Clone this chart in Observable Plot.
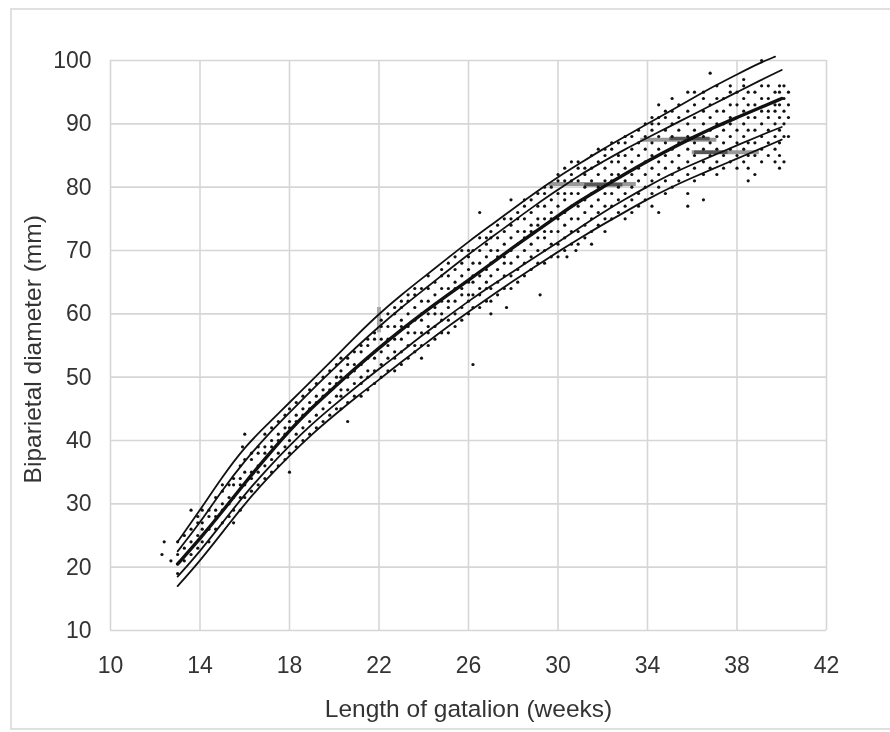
<!DOCTYPE html>
<html><head><meta charset="utf-8">
<script src="https://cdn.jsdelivr.net/npm/d3@7"></script>
<script src="https://cdn.jsdelivr.net/npm/@observablehq/plot@0.6"></script>
<style>
html,body{margin:0;padding:0;background:#fff}
#wrap{position:relative;width:890px;height:732px;overflow:hidden}
#wrap svg{display:block;filter:blur(0.6px)}
#frame{position:absolute;left:10px;top:8px;width:880px;height:722px;border:2px solid #e0e0e0;border-right:none;box-sizing:border-box;pointer-events:none}
</style></head><body>
<div id="wrap"><div id="frame"></div></div>
<script>
const xTicks = [10,14,18,22,26,30,34,38,42];
const yTicks = [10,20,30,40,50,60,70,80,90,100];
const curveWeeks = [13,14,15,16,17,18,19,20,21,22,23,24,25,26,27,28,29,30,31,32,33,34,35,36,37,38,39,40];
const upperOuterWeeks = [13,14,15,16,17,18,19,20,21,22,23,24,25,26,27,28,29,30,31,32,33,34,35,36,37,38,39,39.7];
const upperOuter = [24,29,34.3,39,42.5,46,49.5,53,56.6,60,63,65.8,68.6,71.4,74,76.6,79.2,81.6,83.8,86,88,90,92,94,96,97.8,99.6,100.6];
const upperInner = [22.5,27,32.2,36.8,40.8,44.4,48,51.4,54.8,58,61,63.8,66.6,69.4,72,74.6,77.2,79.6,82,84,86,87.8,89.6,91.4,93.2,95,96.8,98.5];
const median = [20.5,24.5,28.8,33.3,37.5,41.6,45.2,48.4,51.6,54.6,57.5,60.2,62.8,65.3,67.9,70.5,73,75.5,77.9,80,82.1,84.1,86,87.8,89.5,91,92.5,94];
const lowerInner = [18.5,22.5,27,31.5,35.5,39.2,42.6,45.6,48.5,51.3,54,56.8,59.4,62,64.4,66.7,69,71.3,73.7,76,78.1,80.1,82,83.6,85.1,86.6,88.1,89.5];
const lowerOuter = [17,21,25.5,30,34,37.6,41,44,46.9,49.6,52.4,55.1,57.8,60.3,62.8,65.2,67.5,69.8,72,74.1,76.1,78.1,79.9,81.5,83,84.5,86,87.5];

const dotColumns = [
[12.3,[22]],[12.4,[24]],[12.7,[21]],[13,[19,22,24]],[13.3,[21,23,25]],[13.6,[22,24,26,29]],[13.9,[23,25,27,28]],
[14.1,[24,26,27,29]],[14.4,[24,26,28,29]],[14.7,[26,28,29,31]],[15,[27,29,30,32,33]],[15.3,[28,30,31,33]],
[15.5,[27,29,31,33,34]],[15.8,[29,31,33,34,36]],[15.9,[39]],[16,[31,33,35,37,41]],[16.3,[32,34,35,37,38]],[16.6,[33,35,36,38,39]],
[16.9,[34,36,38,39,41]],[17.2,[35,37,39,40,42]],[17.5,[36,38,40,41,43]],[17.8,[37,39,41,42,44]],[18,[35,38,40,42,43,45]],
[18.3,[39,41,43,44,46]],[18.6,[40,42,44,45,47]],[18.9,[41,43,45,46,48]],[19.2,[42,44,46,47,49]],[19.5,[43,45,47,48,50]],
[19.8,[44,46,48,49,51]],[20.1,[45,47,49,50,52]],[20.3,[45,47,48,50,51,53]],[20.6,[43,46,48,50,52,53]],[20.9,[47,49,51,52,54]],
[21.2,[47,49,50,52,54,55]],[21.5,[48,50,51,53,55,56]],[21.8,[49,51,53,54,56,57]],[22.1,[50,52,54,56,58,59]],[22.4,[51,53,55,56,58,60]],
[22.7,[51,53,54,56,58,60,61]],[23,[52,54,56,58,59,61,62]],[23.3,[53,55,57,58,60,62,63]],[23.6,[54,55,57,59,61,63,64]],[23.9,[53,55,57,59,60,62,64]],
[24.2,[55,57,58,60,62,64,66]],[24.5,[56,58,60,61,63,65]],[24.8,[57,59,60,62,64,66,67]],[25.1,[57,59,61,62,64,66,68]],[25.4,[58,60,62,64,65,67,69]],
[25.7,[59,61,63,64,66,68,70]],[26,[60,62,63,65,67,69,70]],[26.2,[52,61,63,65,66,68,70]],[26.5,[61,63,64,66,68,70,72,76]],[26.8,[62,64,65,67,69,71,72]],
[27,[60,62,64,66,68,70,72,73]],[27.3,[63,65,67,69,70,72,74]],[27.6,[64,66,68,69,71,73,75]],[27.7,[61]],[27.9,[64,66,68,70,72,74,75,78]],[28.2,[65,67,69,71,73,75,76]],
[28.5,[66,68,70,72,73,75,77,78]],[28.8,[67,69,71,73,74,76,78]],[29.1,[68,70,72,74,75,77,79]],[29.2,[63]],[29.4,[68,70,72,73,75,77,79,80]],[29.7,[69,71,73,75,76,78,80]],
[30,[69,71,73,75,77,79,81,82]],[30.3,[70,72,74,76,78,79,81,83]],[30.4,[69]],[30.6,[71,73,75,77,79,81,82,84]],[30.8,[70]],[30.9,[71,73,75,77,79,81,83,84]],[31.2,[72,74,76,78,80,82,83]],
[31.5,[71,73,75,77,79,81,83,85]],[31.8,[74,76,78,80,82,84,86]],[32.1,[73,75,77,79,81,83,85,86]],[32.4,[75,77,79,81,82,84,86,87]],[32.7,[76,78,80,82,84,85,87]],
[33,[75,77,79,81,83,85,87,88]],[33.3,[76,78,80,82,84,86,88]],[33.6,[77,79,81,83,85,87,89]],[33.9,[78,80,82,84,86,88,90]],[34.2,[77,79,81,83,85,87,89,91,90]],
[34.5,[76,80,82,84,86,88,90,91,93]],[34.8,[79,81,83,85,87,89,91,92]],[35.1,[80,82,84,86,88,90,92,94]],[35.4,[81,83,85,87,89,91,93]],[35.8,[77,79,82,84,86,88,90,92,95]],
[36.1,[81,83,85,87,89,91,93,95]],[36.5,[78,82,84,86,88,90,92,94,95]],[36.8,[83,85,87,89,91,93,98]],[37.1,[82,84,86,88,90,92,94,96]],[37.4,[83,85,87,89,90,92,94]],
[37.7,[84,86,88,90,91,93,95,96]],[38,[83,85,87,89,91,93,95]],[38.3,[84,86,88,90,92,94,96,97]],[38.5,[81,83,85,87,89,91,93,95]],[38.8,[82,85,87,89,91,93,95]],
[39.1,[84,86,88,90,92,94,96,100]],[39.4,[85,87,89,91,92,94,96]],[39.7,[84,86,88,90,92,93,95]],[39.9,[83,85,87,89,91,93,95,96]],[40.1,[84,88,90,92,94,96]],[40.3,[88,91,93,95]]
];
const smearY = [80.5,87.5,85.5];
const smearFrom = [29.6,33.7,36];
const smearTo = [33.5,37.1,39];
const coreY = [80.4,87.7,85.5];
const coreFrom = [31.2,35,36.1];
const coreTo = [32.9,36.8,37.6];

const dots = dotColumns.flatMap(([w, ys]) => ys.map(mm => ({week: w, mm})));
const series = (ws, vs) => ws.map((w, i) => ({week: w, mm: vs[i]}));
const line = (ws, vs, sw) => Plot.line(series(ws, vs), {x: "week", y: "mm", stroke: "#111", strokeWidth: sw, curve: "basis"});
const band = (ys, from, to) => ys.map((y, i) => ({y, x1: from[i], x2: to[i]}));

const chart = Plot.plot({
  width: 890, height: 732,
  marginLeft: 110, marginRight: 64, marginTop: 60, marginBottom: 102,
  style: {background: "#fff", fontFamily: "'Liberation Sans', Arial, sans-serif"},
  x: {domain: [10, 42]},
  y: {domain: [10, 100]},
  marks: [
    Plot.ruleX(xTicks, {stroke: "#d6d6d6", strokeWidth: 1.6}),
    Plot.ruleY(yTicks, {stroke: "#d6d6d6", strokeWidth: 1.6}),
    Plot.ruleY(band(smearY, smearFrom, smearTo), {y: "y", x1: "x1", x2: "x2", stroke: "#999", strokeWidth: 4}),
    Plot.ruleY(band(coreY, coreFrom, coreTo), {y: "y", x1: "x1", x2: "x2", stroke: "#555", strokeWidth: 3.5}),
    Plot.ruleX([22], {y1: 57, y2: 61, stroke: "#aaa", strokeWidth: 4}),
    Plot.dot(dots, {x: "week", y: "mm", r: 1.6, fill: "#111", stroke: "none"}),
    line(upperOuterWeeks, upperOuter, 1.8),
    line(curveWeeks, upperInner, 1.8),
    line(curveWeeks, median, 3.4),
    line(curveWeeks, lowerInner, 1.8),
    line(curveWeeks, lowerOuter, 1.8),
    Plot.axisX(xTicks, {tickSize: 0, tickPadding: 26, fontSize: 23, fill: "#333", label: null}),
    Plot.axisY(yTicks, {tickSize: 0, tickPadding: 19, fontSize: 23, fill: "#333", label: null}),
    Plot.text(["Length of gatalion (weeks)"], {x: 26, y: 10, dy: 79, fontSize: 24.5, fill: "#333"}),
    Plot.text(["Biparietal diameter (mm)"], {x: 10, y: 54.4, dx: -77, fontSize: 24.5, fill: "#333", rotate: -90})
  ]
});
document.getElementById("wrap").prepend(chart);
</script>
</body></html>
